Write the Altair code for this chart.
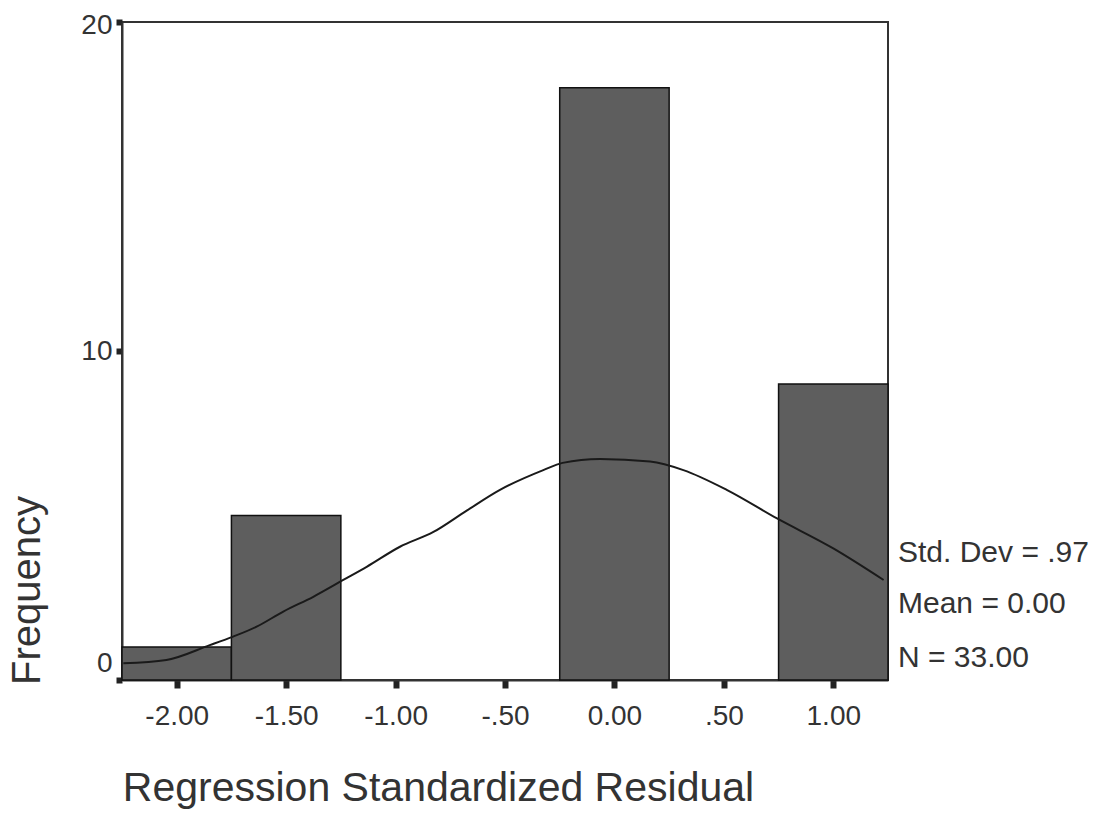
import altair as alt
import pandas as pd

# Histogram bins (regression standardized residual) and frequencies
bin_start = [-2.25, -1.75, -0.25, 0.75]
bin_end = [-1.75, -1.25, 0.25, 1.25]
counts = [1, 5, 18, 9]

# Normal curve
curve_x = [-2.244, -2.047, -1.849, -1.742, -1.635, -1.513, -1.376, -1.239, -1.132,
           -0.98, -0.827, -0.675, -0.523, -0.325, -0.237, -0.066, 0.163, 0.315,
           0.513, 0.743, 1.0, 1.23]
curve_y = [0.51, 0.61, 1.06, 1.32, 1.62, 2.08, 2.53, 3.04, 3.44,
           4.05, 4.50, 5.15, 5.78, 6.38, 6.60, 6.72, 6.64, 6.38,
           5.78, 4.91, 4.0, 3.04]

x_ticks = [-2.0, -1.5, -1.0, -0.5, 0.0, 0.5, 1.0]
x_tick_labels = ["-2.00", "-1.50", "-1.00", "-.50", "0.00", ".50", "1.00"]
y_ticks = [0, 10, 20]
y_tick_labels = ["0", "10", "20"]

stat_labels = ["Std. Dev = .97", "Mean = 0.00", "N = 33.00"]

FONT = "Liberation Sans"
INK = "#333333"


def label_expr(values, labels):
    expr = "''"
    for v, l in reversed(list(zip(values, labels))):
        expr = f"datum.value == {v} ? '{l}' : ({expr})"
    return expr


bars = pd.DataFrame({"start": bin_start, "end": bin_end, "count": counts})
curve = pd.DataFrame({"x": curve_x, "y": curve_y})

x_scale = alt.Scale(domain=[-2.25, 1.25], nice=False, zero=False)
y_scale = alt.Scale(domain=[0, 20], nice=False)

x_axis = alt.Axis(
    values=x_ticks,
    labelExpr=label_expr(x_ticks, x_tick_labels),
    title="Regression Standardized Residual",
    titleFont=FONT, titleFontSize=41, titleFontWeight="normal", titleColor=INK,
    titleX=316, titleY=108, titleAlign="center", titleBaseline="middle", titleAngle=0,
    labelFont=FONT, labelFontSize=28, labelColor=INK, labelPadding=14,
    tickSize=8, tickWidth=6, tickColor="#222222",
    domainColor="#333333", domainWidth=2, grid=False, labelFlush=False,
)
y_axis = alt.Axis(
    values=y_ticks,
    labelExpr=label_expr(y_ticks, y_tick_labels),
    title="Frequency",
    titleFont=FONT, titleFontSize=40, titleFontWeight="normal", titleColor=INK,
    titleX=-95, titleY=568, titleAlign="center", titleBaseline="middle", titleAngle=270,
    labelFont=FONT, labelFontSize=28, labelColor=INK, labelPadding=4,
    labelOffset={"expr": "datum.value == 0 ? -17 : (datum.value == 20 ? 3 : 0)"},
    tickSize=6, tickWidth=6, tickColor="#222222",
    domainColor="#333333", domainWidth=2, grid=False, labelFlush=False,
)

bar_layer = alt.Chart(bars).mark_rect(
    fill="#5e5e5e", stroke="#111111", strokeWidth=1.5
).encode(
    x=alt.X("start:Q", scale=x_scale, axis=x_axis),
    x2="end:Q",
    y=alt.Y("count:Q", scale=y_scale, axis=y_axis),
    y2=alt.datum(0),
)

line_layer = alt.Chart(curve).mark_line(
    color="#1a1a1a", strokeWidth=2, interpolate="monotone"
).encode(
    x=alt.X("x:Q", scale=x_scale),
    y=alt.Y("y:Q", scale=y_scale),
)

stat_y_px = [531, 582, 636]
stat_layers = []
for lab, ypx in zip(stat_labels, stat_y_px):
    stat_layers.append(
        alt.Chart(pd.DataFrame({"t": [lab]})).mark_text(
            font=FONT, fontSize=30, color=INK, align="left", baseline="middle"
        ).encode(x=alt.value(776), y=alt.value(ypx), text="t:N")
    )

chart = alt.layer(bar_layer, line_layer, *stat_layers).properties(
    width=766, height=658,
    background="white",
    autosize=alt.AutoSizeParams(type="none"),
    padding={"left": 122, "top": 22, "right": 217, "bottom": 151},
).configure_view(
    stroke="#333333", strokeWidth=2
)

chart.save("out.html", embed_options={"renderer": "svg", "actions": False})
